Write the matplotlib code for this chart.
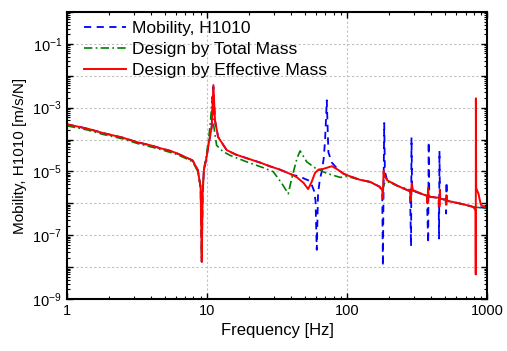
import matplotlib
matplotlib.use("Agg")
import matplotlib.pyplot as plt
from matplotlib.ticker import LogLocator, FuncFormatter, NullFormatter
import numpy as np

plt.rcParams['font.family'] = ['Liberation Sans', 'DejaVu Sans']
plt.rcParams['mathtext.fontset'] = 'custom'
plt.rcParams['mathtext.rm'] = 'Liberation Sans'
plt.rcParams['mathtext.it'] = 'Liberation Sans'

# ---- data ----
# measured mobility (blue dashed)
f_meas = [1, 1.4, 1.81, 2.5, 3.16, 4.0, 4.6, 5.4, 6.1, 7.3, 7.9, 8.6, 9.0, 9.17,
          9.3, 9.5, 9.9, 10.3, 10.8, 11.1, 11.4, 12.0, 13.8, 16, 19.2, 23.9, 28.1,
          33, 41.3, 46, 50, 54.5, 58, 59.5, 60.7, 62, 64, 66, 68, 69.6, 71.6, 73.5,
          77.7, 84, 94, 100, 123, 146, 171, 178, 180, 182, 184, 186, 193, 230, 281,
          286, 288, 291, 300, 371, 379, 382, 386, 450, 453, 456, 460, 505, 509, 512,
          516, 600, 700, 796, 900, 1000]
h_meas = [3.0e-4, 2.2e-4, 1.6e-4, 1.15e-4, 8.3e-5, 6.5e-5, 5.4e-5, 4.5e-5, 3.7e-5,
          2.6e-5, 2.2e-5, 1.1e-5, 3.2e-6, 1.5e-8, 2e-6, 1.1e-5, 2.6e-5, 7.7e-5,
          2.5e-4, 4.5e-3, 4e-4, 1.2e-4, 4.7e-5, 3.4e-5, 2.6e-5, 1.9e-5, 1.45e-5,
          1.15e-5, 7.6e-6, 7e-6, 5.8e-6, 5e-6, 2.5e-6, 1.2e-6, 3.5e-8, 2e-6, 6e-6,
          1e-5, 2.5e-5, 9.5e-5, 1.7e-3, 4e-5, 1.9e-5, 1.3e-5, 8.5e-6, 7.6e-6, 5.5e-6,
          4.7e-6, 3.3e-6, 2.3e-6, 1.07e-8, 3e-6, 3.3e-4, 1e-5, 5.3e-6, 3.5e-6, 2.4e-6,
          4.5e-8, 1.16e-4, 2.6e-6, 2.4e-6, 1.7e-6, 5.7e-8, 8.5e-5, 1.6e-6, 1.5e-6,
          7.9e-8, 4.4e-5, 1.4e-6, 1.3e-6, 4.8e-7, 4.7e-6, 1.2e-6, 1.05e-6, 9e-7,
          7.7e-7, 7.5e-7, 6.9e-7]

# design by total mass (green dash-dot)
f_total = [1, 1.4, 1.81, 2.5, 3.16, 4.6, 6.1, 7.3, 7.9, 8.6, 9.0, 9.15, 9.3, 9.5,
           9.9, 10.3, 10.6, 10.9, 11.2, 11.7, 13, 14.6, 19.2, 25.3, 29.7, 34.2, 38,
           40.2, 43.9, 46.2, 51.5, 58.9, 71.6, 89.3, 100, 123, 146, 171, 180, 183,
           193, 230, 300, 400, 500, 600, 800, 1000]
h_total = [2.7e-4, 2.0e-4, 1.45e-4, 1.05e-4, 7.6e-5, 5e-5, 3.4e-5, 2.4e-5, 2e-5,
           1e-5, 3e-6, 2e-8, 2e-6, 1.2e-5, 3.2e-5, 1.2e-4, 4e-4, 2.2e-3, 2.5e-4,
           6.6e-5, 4.2e-5, 3.2e-5, 2e-5, 1.3e-5, 9.8e-6, 4.2e-6, 2e-6, 6e-6, 2.6e-5,
           4.4e-5, 2e-5, 1.3e-5, 8.7e-6, 6.5e-6, 7e-6, 5.5e-6, 4.7e-6, 3.3e-6,
           2.8e-6, 4e-6, 4.8e-6, 3.5e-6, 2.4e-6, 1.6e-6, 1.3e-6, 1.05e-6, 7.7e-7,
           6.9e-7]

# design by effective mass (red solid)
f_eff = [1, 1.4, 1.81, 2.5, 3.16, 4.0, 4.6, 5.4, 6.1, 7.3, 7.9, 8.6, 9.0, 9.17, 9.3,
         9.5, 9.9, 10.3, 10.8, 11.1, 11.4, 12.0, 13.8, 16, 19.2, 23.9, 28.1, 33,
         41.3, 43.9, 48.8, 52.7, 55.8, 59, 62.6, 67.6, 77.7, 84.3, 94.3, 100, 123,
         146, 171, 178, 180, 182, 186, 193, 230, 281, 285, 289, 295, 371, 375, 378,
         383, 454, 456, 459, 463, 508, 510, 512, 515, 600, 700, 796, 826, 828, 830,
         834, 866, 900, 1000]
h_eff = [3.0e-4, 2.2e-4, 1.6e-4, 1.15e-4, 8.3e-5, 6.5e-5, 5.4e-5, 4.5e-5, 3.7e-5,
         2.6e-5, 2.2e-5, 1.1e-5, 3.2e-6, 1.45e-8, 2e-6, 1.1e-5, 2.6e-5, 7.7e-5,
         2.5e-4, 5.1e-3, 4e-4, 1.2e-4, 4.7e-5, 3.4e-5, 2.6e-5, 1.9e-5, 1.45e-5,
         1.15e-5, 7.6e-6, 6.5e-6, 4.4e-6, 2.8e-6, 4.7e-6, 9e-6, 1.15e-5, 1.2e-5,
         1.46e-5, 1.2e-5, 8.5e-6, 7.6e-6, 5.5e-6, 4.7e-6, 3.3e-6, 2.6e-6, 1.4e-6,
         1.04e-5, 7e-6, 5.3e-6, 3.5e-6, 2.4e-6, 1.2e-6, 4.2e-6, 2.6e-6, 1.7e-6,
         1.0e-6, 3.0e-6, 1.6e-6, 1.5e-6, 8e-7, 2.6e-6, 1.4e-6, 1.3e-6, 9e-7, 1.8e-6,
         1.2e-6, 1.05e-6, 9e-7, 7.7e-7, 6e-7, 5.9e-9, 1.96e-3, 3e-6, 2e-6, 9e-7,
         6.9e-7]

fig = plt.figure(figsize=(5.07, 3.51), dpi=100)
ax = fig.add_axes([0.132, 0.148, 0.829, 0.818])

ax.plot(f_meas, h_meas, ls=(0, (4, 3)), c='#0000ff', lw=1.3, label='Mobility, H1010')
ax.plot(f_total, h_total, ls=(0, (5, 2, 1, 2)), c='#008000', lw=1.2,
        label='Design by Total Mass')
ax.plot(f_eff, h_eff, '-', c='#ff0000', lw=1.4, label='Design by Effective Mass')

ax.set_xscale('log')
ax.set_yscale('log')
ax.set_xlim(1, 1000)
ax.set_ylim(1e-9, 1)

ax.yaxis.set_major_locator(LogLocator(base=10, numticks=20))
ax.yaxis.set_minor_locator(LogLocator(base=10, subs=np.arange(2, 10), numticks=20))
ax.yaxis.set_minor_formatter(NullFormatter())


def ylab(v, pos):
    e = int(round(np.log10(v)))
    return '$10^{%d}$' % e if e % 2 else ''


ax.yaxis.set_major_formatter(FuncFormatter(ylab))
ax.xaxis.set_major_formatter(FuncFormatter(lambda v, p: '%d' % v))
ax.xaxis.set_minor_formatter(NullFormatter())

ax.tick_params(which='both', direction='in', top=True, right=True, labelsize=10.5)
ax.tick_params(which='major', length=4, width=1)
ax.tick_params(which='minor', length=2, width=0.8)
for s in ax.spines.values():
    s.set_linewidth(1.5)

ax.grid(True, which='major', ls=(0, (2, 2)), color='#c0c0c0', lw=0.8)

ax.set_xlabel('Frequency [Hz]', fontsize=12)
ax.set_ylabel('Mobility, H1010 [m/s/N]', fontsize=11)

ax.legend(loc='upper left', bbox_to_anchor=(0.02, 1.0), frameon=False,
          fontsize=12.5, handlelength=2.4, borderaxespad=0.2, borderpad=0.3,
          labelspacing=0.35, handletextpad=0.35)

plt.savefig('out.png', dpi=100)
